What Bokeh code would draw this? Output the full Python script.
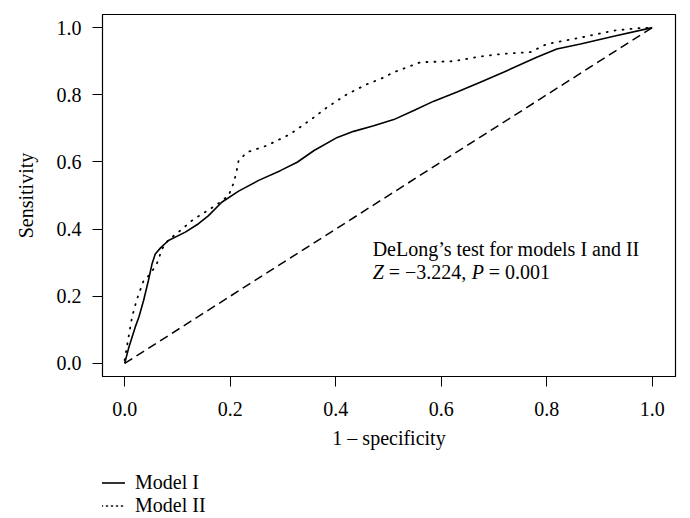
from bokeh.plotting import figure
from bokeh.layouts import column
from bokeh.models import (Range1d, FixedTicker, NumeralTickFormatter, Legend,
                          LegendItem, Label)
from bokeh.embed import file_html
from bokeh.resources import INLINE

# ---- data ----
model1_fpr = [0.0, 0.008, 0.020, 0.027, 0.036, 0.045, 0.052, 0.058, 0.068, 0.083,
              0.115, 0.140, 0.159, 0.184, 0.216, 0.254, 0.295, 0.327, 0.359, 0.403,
              0.434, 0.472, 0.510, 0.548, 0.586, 0.630, 0.674, 0.718, 0.781, 0.819,
              0.864, 0.927, 1.0]
model1_tpr = [0.0, 0.048, 0.108, 0.138, 0.188, 0.247, 0.297, 0.326, 0.344, 0.366,
              0.391, 0.416, 0.440, 0.480, 0.513, 0.545, 0.574, 0.599, 0.634, 0.673,
              0.691, 0.708, 0.726, 0.753, 0.781, 0.808, 0.837, 0.867, 0.912, 0.936,
              0.951, 0.974, 1.0]

model2_fpr = [0.0, 0.004, 0.014, 0.023, 0.036, 0.049, 0.061, 0.071, 0.083, 0.102,
              0.128, 0.159, 0.181, 0.197, 0.206, 0.211, 0.216, 0.232, 0.270, 0.314,
              0.359, 0.384, 0.422, 0.460, 0.485, 0.510, 0.561, 0.624, 0.674, 0.718,
              0.769, 0.800, 0.857, 0.927, 0.971, 1.0]
model2_tpr = [0.01, 0.048, 0.138, 0.190, 0.247, 0.267, 0.297, 0.341, 0.368, 0.391,
              0.426, 0.457, 0.480, 0.500, 0.535, 0.564, 0.604, 0.629, 0.649, 0.683,
              0.733, 0.763, 0.802, 0.832, 0.847, 0.867, 0.897, 0.900, 0.914, 0.922,
              0.927, 0.951, 0.968, 0.991, 0.998, 1.0]

ref_x = [0.0, 1.0]
ref_y = [0.0, 1.0]

tick_values = [0.0, 0.2, 0.4, 0.6, 0.8, 1.0]
legend_labels = ["Model I", "Model II"]
note_line1 = "DeLong\u2019s test for models I and II"
note_z = "Z"
note_z_val = "\u00a0=\u00a0\u22123.224,\u00a0"
note_p = "P"
note_p_val = "\u00a0=\u00a00.001"

FONT = "Liberation Serif"
W = 688

p = figure(width=W, height=456, output_backend="svg", toolbar_location=None,
           x_range=Range1d(-0.042, 1.044), y_range=Range1d(-0.039, 1.039),
           min_border_left=102, min_border_right=13, min_border_top=14,
           min_border_bottom=80)
p.background_fill_color = "white"
p.border_fill_color = "white"
p.grid.visible = False
p.outline_line_color = "black"
p.outline_line_width = 1.2

l1 = p.line(model1_fpr, model1_tpr, line_color="black", line_width=1.6)
l2 = p.line(model2_fpr, model2_tpr, line_color="black", line_width=1.8,
            line_dash="1 7", line_cap="round")
p.line(ref_x, ref_y, line_color="black", line_width=1.5, line_dash="9 5")

for ax in (p.xaxis[0], p.yaxis[0]):
    ax.ticker = FixedTicker(ticks=tick_values)
    ax.formatter = NumeralTickFormatter(format="0.0")
    ax.major_tick_out = 10
    ax.major_tick_in = 0
    ax.minor_tick_out = 0
    ax.minor_tick_in = 0
    ax.axis_line_color = "black"
    ax.major_tick_line_color = "black"
    ax.major_label_text_font = FONT
    ax.major_label_text_font_size = "20px"
    ax.major_label_text_color = "black"
    ax.axis_label_text_font = FONT
    ax.axis_label_text_font_size = "20px"
    ax.axis_label_text_font_style = "normal"
    ax.axis_label_text_color = "black"

p.xaxis.axis_label = "1 \u2013 specificity"
p.yaxis.axis_label = "Sensitivity"
p.xaxis.major_label_standoff = 15
p.yaxis.major_label_standoff = 11
p.yaxis.major_label_orientation = "horizontal"
p.xaxis.axis_label_standoff = 8
p.yaxis.axis_label_standoff = 17

lab_x = 0.47
p.add_layout(Label(x=lab_x, y=0.342, text=note_line1, text_baseline="middle",
                   text_font=FONT, text_font_size="20px", text_color="black"))
offs = [0, 11, 99, 111]
texts = [note_z, note_z_val, note_p, note_p_val]
styles = ["italic", "normal", "italic", "normal"]
for o, t, s in zip(offs, texts, styles):
    p.add_layout(Label(x=lab_x, y=0.271, x_offset=o, text=t, text_baseline="middle",
                       text_font=FONT, text_font_size="20px", text_font_style=s,
                       text_color="black"))

# ---- legend strip below the plot (its sample lines lie outside its view) ----
q = figure(width=W, height=62, output_backend="svg", toolbar_location=None,
           x_range=Range1d(5, 6), y_range=Range1d(5, 6),
           min_border=0, min_border_left=0, min_border_right=0,
           min_border_top=0, min_border_bottom=0)
q.axis.visible = False
q.grid.visible = False
q.outline_line_color = None
q.background_fill_color = "white"
q.border_fill_color = "white"
d1 = q.line(ref_x, ref_y, line_color="black", line_width=1.6)
d2 = q.line(ref_x, ref_y, line_color="black", line_width=1.6, line_dash="1 4",
            line_cap="round")
legend = Legend(items=[LegendItem(label=legend_labels[0], renderers=[d1]),
                       LegendItem(label=legend_labels[1], renderers=[d2])],
                location=(-1, 1), orientation="vertical",
                glyph_width=24, glyph_height=19, label_height=19,
                label_standoff=10, spacing=-3, padding=0, margin=0,
                border_line_alpha=0, background_fill_alpha=0,
                label_text_font=FONT, label_text_font_size="20px",
                label_text_color="black")
q.add_layout(legend)

layout = column(p, q, spacing=0)
open("out.html", "w").write(file_html(layout, INLINE))
